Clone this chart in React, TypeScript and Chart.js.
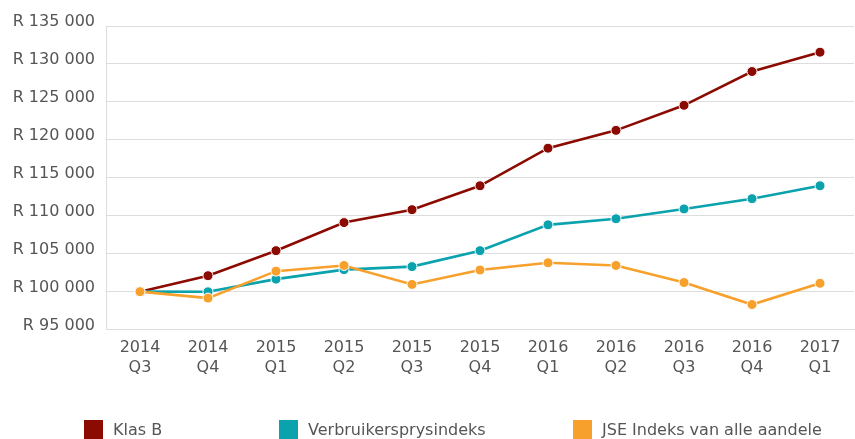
import React, { useEffect, useRef } from "react";
import { Chart, registerables } from "chart.js";

Chart.register(...registerables);

const years = ["2014", "2014", "2015", "2015", "2015", "2015", "2016", "2016", "2016", "2016", "2017"];
const quarters = ["Q3", "Q4", "Q1", "Q2", "Q3", "Q4", "Q1", "Q2", "Q3", "Q4", "Q1"];

const klasB = [100000, 102100, 105400, 109100, 110800, 113950, 118900, 121250, 124550, 129000, 131550];
const verbruikers = [100000, 99980, 101650, 102900, 103300, 105400, 108800, 109600, 110900, 112250, 113950];
const jse = [100000, 99150, 102700, 103450, 100950, 102850, 103800, 103450, 101200, 98300, 101100];

const seriesNames = ["Klas B", "Verbruikersprysindeks", "JSE Indeks van alle aandele"];
const seriesColors = ["#8b0a02", "#0aa2ad", "#f8a02c"];

const yMin = 95000;
const yMax = 135000;
const yStep = 5000;

const FONT = "'DejaVu Sans', Verdana, sans-serif";

function fmt(v: number) {
  return "R " + String(Math.round(v)).replace(/\B(?=(\d{3})+(?!\d))/g, " ");
}

const legendPlugin = {
  id: "customLegend",
  afterDraw(chart: any) {
    const ctx = chart.ctx;
    const xs = [84, 279, 573];
    const top = 420;
    const box = 19;
    ctx.save();
    ctx.font = `16px ${FONT}`;
    ctx.textBaseline = "middle";
    ctx.textAlign = "left";
    chart.data.datasets.forEach((ds: any, i: number) => {
      ctx.fillStyle = ds.borderColor;
      ctx.fillRect(xs[i], top, box, box);
      ctx.fillStyle = "#555555";
      ctx.fillText(ds.label, xs[i] + box + 10, top + 11);
    });
    ctx.restore();
  },
};

export default function App() {
  const ref = useRef<HTMLCanvasElement>(null);
  useEffect(() => {
    document.body.style.margin = "0";
    const labels = years.map((y, i) => [y, quarters[i]]);
    const data = [klasB, verbruikers, jse];
    const chart = new Chart(ref.current!, {
      type: "line",
      data: {
        labels,
        datasets: data.map((d, i) => ({
          label: seriesNames[i],
          data: d,
          borderColor: seriesColors[i],
          backgroundColor: seriesColors[i],
          pointBackgroundColor: seriesColors[i],
          pointBorderColor: "#ffffff",
          pointBorderWidth: 1,
          pointRadius: 5,
          borderWidth: 2.6,
          tension: 0,
          order: 2 - i,
        })),
      },
      options: {
        animation: false,
        responsive: false,
        maintainAspectRatio: false,
        layout: { autoPadding: false, padding: { top: 26, right: 1, bottom: 61, left: 0 } },
        plugins: {
          legend: { display: false },
          tooltip: { enabled: false },
        },
        scales: {
          x: {
            offset: true,
            grid: { display: false },
            border: { display: true, color: "#dddddd" },
            afterFit: (scale: any) => {
              scale.paddingLeft = 0;
              scale.paddingRight = 0;
            },
            ticks: {
              color: "#555555",
              font: { family: FONT, size: 16 },
              padding: 1,
              maxRotation: 0,
              autoSkip: false,
            },
          },
          y: {
            min: yMin,
            max: yMax,
            grid: { color: "#dddddd", drawTicks: false },
            border: { display: true, color: "#dddddd" },
            afterFit: (scale: any) => {
              scale.width = 106;
            },
            ticks: {
              stepSize: yStep,
              color: "#555555",
              font: { family: FONT, size: 16 },
              padding: 11,
              labelOffset: -4,
              callback: (v: any) => fmt(Number(v)),
            },
          },
        },
      },
      plugins: [legendPlugin],
    });
    return () => chart.destroy();
  }, []);
  return (
    <div style={{ width: 855, height: 439 }}>
      <canvas ref={ref} width={855} height={439} style={{ display: "block" }} />
    </div>
  );
}
